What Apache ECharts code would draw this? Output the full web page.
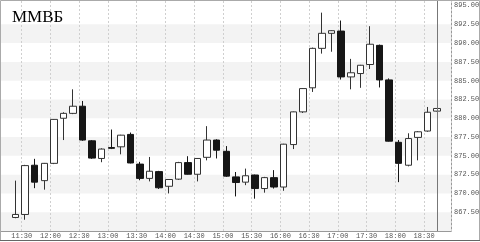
<!DOCTYPE html>
<html><head><meta charset="utf-8">
<script src="https://cdn.jsdelivr.net/npm/echarts@6/dist/echarts.min.js"></script>
<style>html,body{margin:0;padding:0;background:#fff}#c{width:480px;height:242px}</style>
</head><body><div id="c"></div>
<script>
const title = 'ММВБ';
const times = ['11:20','11:30','11:40','11:50','12:00','12:10','12:20','12:30','12:40','12:50',
  '13:00','13:10','13:20','13:30','13:40','13:50','14:00','14:10','14:20','14:30',
  '14:40','14:50','15:00','15:10','15:20','15:30','15:40','15:50','16:00','16:10',
  '16:20','16:30','16:40','16:50','17:00','17:10','17:20','17:30','17:40','17:50',
  '18:00','18:10','18:20','18:30','18:40'];
const opens  = [866.8,867.2,873.75,871.7,874.0,880.0,880.65,881.6,877.0,874.65,
  876.1,876.2,877.85,873.9,872.0,872.9,870.95,871.9,874.1,872.55,
  874.8,877.1,875.6,872.2,871.5,872.45,870.65,872.1,870.85,876.5,
  880.85,884.05,889.3,891.3,891.6,885.5,885.95,887.15,889.7,885.1,
  876.8,873.75,877.45,878.3,880.95];
const closes = [867.2,873.7,871.5,874.0,879.85,880.65,881.6,877.1,874.7,875.9,
  876.0,877.75,874.05,872.0,872.95,870.75,871.85,874.1,872.55,874.65,
  877.1,875.75,872.3,871.45,872.35,870.65,872.1,870.85,876.55,880.85,
  883.95,889.3,891.3,891.65,885.5,886.05,887.05,889.85,885.1,876.95,
  874.0,877.3,878.2,880.8,881.3];
const lows   = [866.7,866.5,870.7,870.5,873.9,877.1,880.55,877.0,874.6,874.15,
  875.9,875.2,874.0,871.75,871.6,870.6,870.0,871.8,872.5,871.6,
  874.4,874.65,872.2,869.6,871.1,869.3,870.1,870.65,870.35,875.9,
  880.7,883.5,888.6,888.85,885.15,883.85,884.05,886.55,884.1,876.9,
  871.5,873.6,874.4,878.2,880.9];
const highs  = [871.7,873.8,874.6,874.05,879.9,880.8,883.85,882.3,877.1,876.0,
  878.5,877.8,878.1,874.2,874.85,873.0,871.9,874.2,874.95,874.7,
  878.95,877.2,876.3,872.85,873.3,872.5,872.2,873.1,876.6,880.9,
  884.0,889.4,894.05,891.7,893.0,887.9,887.1,892.25,889.8,885.3,
  877.1,878.0,878.3,881.5,881.35];
const bands = [[865,867.5],[870,872.5],[875,877.5],[880,882.5],[885,887.5],[890,892.5]];

function toMin(s){const p=s.split(':').map(Number);return p[0]*60+p[1];}
function fmtMin(v){const h=Math.floor(v/60),m=Math.round(v-h*60);return h+':'+(m<10?'0':'')+m;}
const barShift = 3.5;
const candles = times.map((t,i)=>[toMin(t)+barShift, opens[i], closes[i], lows[i], highs[i]]);
const lastX = candles[candles.length-1][0];

const chart = echarts.init(document.getElementById('c'), null, {renderer:'canvas'});
chart.setOption({
  animation:false,
  backgroundColor:'#fff',
  title:{text:title,left:7,top:4,textStyle:{fontFamily:'Liberation Serif',fontSize:17,fontWeight:'normal',color:'#000'}},
  grid:{left:-7,right:29,top:1,bottom:11,outerBoundsMode:'none',containLabel:false},
  xAxis:{type:'value',min:660,max:1138.1,interval:30,z:1.5,
    axisLine:{show:true,onZero:false,lineStyle:{color:'#999'}},
    axisTick:{show:false},
    axisLabel:{showMinLabel:false,showMaxLabel:false,margin:2,fontSize:7,fontFamily:'Liberation Mono',color:'#555',formatter:fmtMin},
    splitLine:{show:true,lineStyle:{color:'#cfcfcf',type:[2,2]}}},
  yAxis:{type:'value',position:'right',min:865,max:895.6,interval:2.5,
    axisLine:{show:true,lineStyle:{color:'#999'}},
    axisTick:{show:false},
    axisLabel:{showMinLabel:false,showMaxLabel:false,margin:3,fontSize:7,fontFamily:'Liberation Mono',color:'#555',formatter:v=>v.toFixed(2)},
    splitLine:{show:false},splitArea:{show:false}},
  graphic:[
    {type:'rect',z:100,silent:true,shape:{x:0.5,y:0.5,width:479,height:240},style:{fill:null,stroke:'#aaa',lineWidth:1}},
    {type:'line',z:101,silent:true,shape:{x1:0,y1:240.5,x2:480,y2:240.5},style:{stroke:'#666',lineWidth:1}}
  ],
  series:[
    {type:'line',data:[],z:1,silent:true,
      markArea:{silent:true,itemStyle:{color:'#f3f3f3'},data:bands.map(b=>[{yAxis:b[0]},{yAxis:b[1]}])}},
    {type:'candlestick',z:3,data:candles,encode:{x:0,y:[1,2,3,4]},barWidth:7,
      itemStyle:{color:'#fff',borderColor:'#333',color0:'#161616',borderColor0:'#161616',borderWidth:1},
      markLine:{silent:true,symbol:['none','none'],label:{show:false},lineStyle:{color:'#777',width:1,type:'solid'},
        data:[{xAxis:lastX}]}}
  ]
});
</script></body></html>
